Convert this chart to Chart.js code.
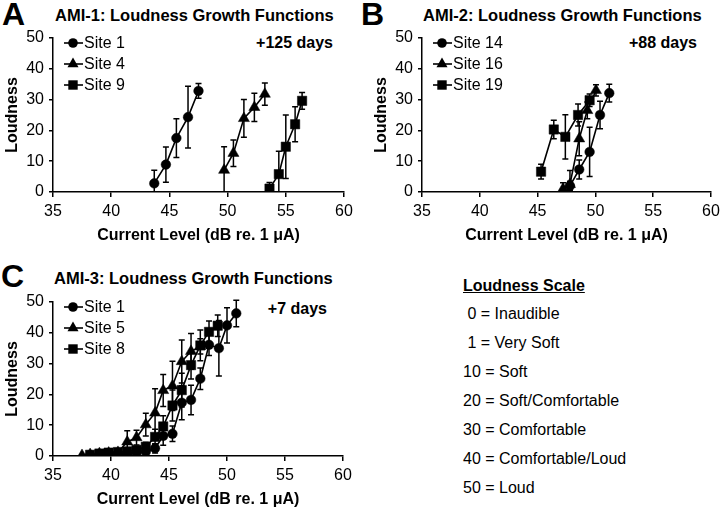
<!DOCTYPE html>
<html>
<head>
<meta charset="utf-8">
<script src="https://cdn.jsdelivr.net/npm/chart.js@4/dist/chart.umd.min.js"></script>
<style>
  html, body { margin:0; padding:0; background:#fff; }
  body { width:720px; height:508px; position:relative; overflow:hidden; font-family:'Liberation Sans', Arial, sans-serif; color:#000; }
  canvas { position:absolute; }
  .t { position:absolute; white-space:pre; font-size:16px; line-height:20px; }
  .b { font-weight:bold; }
  .h { font-size:16.5px; }
  .big { position:absolute; font-weight:bold; font-size:32px; line-height:36px; }
</style>
</head>
<body>
<div class="big" style="left:2px;top:-4px;">A</div>
<div class="big" style="left:361px;top:-4px;">B</div>
<div class="big" style="left:1px;top:258px;">C</div>
<div class="t b h" style="left:55px;top:5px;">AMI-1: Loudness Growth Functions</div>
<div class="t b h" style="left:423px;top:5px;">AMI-2: Loudness Growth Functions</div>
<div class="t b h" style="left:54px;top:268px;">AMI-3: Loudness Growth Functions</div>
<div class="t b" style="right:387px;top:33px;">+125 days</div>
<div class="t b" style="right:23px;top:33px;">+88 days</div>
<div class="t b" style="right:393px;top:299px;">+7 days</div>
<div class="t b" style="left:463px;top:276px;text-decoration:underline;">Loudness Scale</div>
<div class="t" style="left:463px;top:304px;"> 0 = Inaudible</div>
<div class="t" style="left:463px;top:333px;"> 1 = Very Soft</div>
<div class="t" style="left:463px;top:362px;">10 = Soft</div>
<div class="t" style="left:463px;top:391px;">20 = Soft/Comfortable</div>
<div class="t" style="left:463px;top:420px;">30 = Comfortable</div>
<div class="t" style="left:463px;top:449px;">40 = Comfortable/Loud</div>
<div class="t" style="left:463px;top:478px;">50 = Loud</div>

<canvas id="ca" width="360" height="250" style="left:0;top:0;"></canvas>
<canvas id="cb" width="380" height="250" style="left:360px;top:0;"></canvas>
<canvas id="cc" width="360" height="250" style="left:0;top:264px;"></canvas>

<script>
// ---- Panel A (AMI-1) ----
const aSite1X = [43.7, 44.7, 45.6, 46.6, 47.5];
const aSite1Y = [2.8, 8.9, 17.5, 24.3, 32.8];
const aSite1E = [4.3, 5.7, 6.3, 10.0, 2.4];
const aSite4X = [49.7, 50.5, 51.4, 52.3, 53.2];
const aSite4Y = [7.1, 12.6, 23.9, 27.5, 31.8];
const aSite4E = [7.6, 4.3, 6.1, 4.6, 3.6];
const aSite9X = [53.6, 54.4, 55.0, 55.8, 56.4];
const aSite9Y = [1.1, 5.8, 14.7, 22.0, 29.6];
const aSite9E = [2.0, 7.4, 10.3, 5.7, 2.7];

// ---- Panel B (AMI-2) ----
const bSite14X = [47.8, 48.6, 49.5, 50.4, 51.2];
const bSite14Y = [2.0, 7.3, 13.0, 25.0, 32.1];
const bSite14E = [1.5, 3.1, 8.0, 4.5, 2.9];
const bSite16X = [47.2, 47.8, 48.6, 49.3, 50.05];
const bSite16Y = [1.0, 2.5, 17.3, 26.5, 33.0];
const bSite16E = [2.0, 4.5, 5.5, 2.7, 1.8];
const bSite19X = [45.3, 46.4, 47.4, 48.5, 49.5];
const bSite19Y = [6.6, 20.3, 17.9, 25.0, 29.8];
const bSite19E = [2.4, 3.0, 7.2, 3.6, 2.0];

// ---- Panel C (AMI-3) ----
const cSite1X = [38.2, 39.0, 39.8, 40.6, 41.4, 42.2, 43.0, 43.8, 44.5, 45.3, 46.1, 46.9, 47.7, 48.45, 49.3, 50.0, 50.8];
const cSite1Y = [0.2, 0.4, 0.6, 0.8, 1.0, 1.2, 1.4, 2.5, 6.5, 7.2, 17.3, 18.2, 25.1, 36.1, 35.0, 42.4, 46.3];
const cSite1E = [0.3, 0.3, 0.4, 0.5, 0.5, 0.6, 0.7, 1.5, 3.0, 2.5, 5.5, 4.8, 3.5, 3.5, 9.0, 5.7, 4.3];
const cSite5X = [37.5, 38.2, 39.0, 39.8, 40.6, 41.4, 42.2, 43.0, 43.8, 44.5, 45.3, 46.1, 46.9, 47.7];
const cSite5Y = [0.2, 0.5, 0.8, 1.0, 1.2, 4.6, 6.0, 10.2, 14.0, 21.3, 22.8, 30.7, 34.0, 35.6];
const cSite5E = [0.3, 0.4, 0.4, 0.5, 0.5, 3.6, 2.4, 3.7, 7.8, 5.2, 8.0, 7.0, 5.8, 2.5];
const cSite8X = [38.2, 39.0, 39.8, 40.6, 41.4, 42.2, 43.0, 43.8, 44.5, 45.3, 46.1, 46.9, 47.7, 48.45, 49.2];
const cSite8Y = [0.4, 0.8, 1.1, 1.3, 1.5, 2.0, 3.0, 6.2, 9.6, 16.4, 21.4, 29.5, 35.9, 40.3, 42.3];
const cSite8E = [0.3, 0.4, 0.4, 0.5, 0.6, 1.0, 1.5, 2.5, 3.5, 5.0, 5.5, 4.5, 5.0, 3.5, 3.5];

const xTicks = [35, 40, 45, 50, 55, 60];
const yTicks = [0, 10, 20, 30, 40, 50];

const FAMILY = "'Liberation Sans', Arial, sans-serif";
const STYLES = ['circle', 'triangle', 'rect'];
const RADII = [4.8, 6.4, 6.6];

function pts(xs, ys) { return xs.map((x, i) => ({ x: x, y: ys[i] })); }

function ds(label, xs, ys, errs, k) {
  return {
    label: label,
    data: pts(xs, ys),
    errors: errs,
    showLine: true,
    borderColor: '#000',
    backgroundColor: '#000',
    borderWidth: 1.6,
    pointStyle: STYLES[k],
    pointRadius: RADII[k],
    pointBackgroundColor: '#000',
    pointBorderColor: '#000',
    pointBorderWidth: 0.5,
    tension: 0
  };
}

const errorBars = {
  id: 'errorBars',
  beforeDatasetsDraw(chart) {
    const { ctx, chartArea, scales } = chart;
    ctx.save();
    ctx.beginPath();
    ctx.rect(chartArea.left, chartArea.top - 10, chartArea.right - chartArea.left, chartArea.bottom - chartArea.top + 10);
    ctx.clip();
    ctx.strokeStyle = '#000';
    ctx.lineWidth = 1.5;
    chart.data.datasets.forEach(d => {
      d.data.forEach((p, i) => {
        const e = d.errors[i];
        const px = scales.x.getPixelForValue(p.x);
        const yt = scales.y.getPixelForValue(p.y + e);
        const yb = scales.y.getPixelForValue(p.y - e);
        ctx.beginPath();
        ctx.moveTo(px, yt); ctx.lineTo(px, yb);
        ctx.moveTo(px - 3, yt); ctx.lineTo(px + 3, yt);
        ctx.moveTo(px - 3, yb); ctx.lineTo(px + 3, yb);
        ctx.stroke();
      });
    });
    ctx.restore();
  }
};

const insideLegend = {
  id: 'insideLegend',
  afterDraw(chart) {
    const { ctx, chartArea } = chart;
    ctx.save();
    chart.data.datasets.forEach((d, i) => {
      const y = chartArea.top + 5 + i * 21;
      const x0 = chartArea.left + 11, x1 = chartArea.left + 30, xm = chartArea.left + 20;
      ctx.strokeStyle = '#000'; ctx.fillStyle = '#000'; ctx.lineWidth = 1.6;
      ctx.beginPath(); ctx.moveTo(x0, y); ctx.lineTo(x1, y); ctx.stroke();
      ctx.beginPath();
      if (i === 0) { ctx.arc(xm, y, 4.8, 0, Math.PI * 2); }
      else if (i === 1) {
        const r = 6.4;
        ctx.moveTo(xm, y - r);
        ctx.lineTo(xm + r * Math.sin(Math.PI * 2 / 3), y - r * Math.cos(Math.PI * 2 / 3));
        ctx.lineTo(xm - r * Math.sin(Math.PI * 2 / 3), y - r * Math.cos(Math.PI * 2 / 3));
        ctx.closePath();
      } else { ctx.rect(xm - 4.7, y - 4.7, 9.4, 9.4); }
      ctx.fill();
      ctx.font = '16px ' + FAMILY;
      ctx.textBaseline = 'middle';
      ctx.textAlign = 'left';
      ctx.fillText(d.label, chartArea.left + 31, y + 1);
    });
    ctx.restore();
  }
};

function makeChart(id, datasets, padL, padR) {
  return new Chart(document.getElementById(id), {
    type: 'scatter',
    data: { datasets: datasets },
    plugins: [errorBars, insideLegend],
    options: {
      responsive: false,
      animation: false,
      devicePixelRatio: 1,
      layout: { padding: { left: padL, right: padR, top: 38, bottom: 0 } },
      plugins: { legend: { display: false }, tooltip: { enabled: false } },
      scales: {
        x: {
          type: 'linear', min: xTicks[0], max: xTicks[xTicks.length - 1],
          afterBuildTicks(s) { s.ticks = xTicks.map(v => ({ value: v })); },
          ticks: { color: '#000', font: { size: 16, family: FAMILY }, padding: 5, maxRotation: 0, autoSkip: false },
          border: { color: '#000', width: 1.5 },
          grid: { drawOnChartArea: false, drawTicks: true, tickLength: 5, color: '#000', lineWidth: 1.5 },
          title: { display: true, text: 'Current Level (dB re. 1 μA)', color: '#000', font: { size: 16, weight: 'bold', family: FAMILY }, padding: { top: 0, bottom: 5 } },
          afterFit(s) { s.height = 58; }
        },
        y: {
          type: 'linear', min: yTicks[0], max: yTicks[yTicks.length - 1],
          afterBuildTicks(s) { s.ticks = yTicks.map(v => ({ value: v })); },
          ticks: { color: '#000', font: { size: 16, family: FAMILY }, padding: 5 },
          border: { color: '#000', width: 1.5 },
          grid: { drawOnChartArea: false, drawTicks: true, tickLength: 4, color: '#000', lineWidth: 1.5 },
          title: { display: true, text: 'Loudness', color: '#000', font: { size: 16, weight: 'bold', family: FAMILY }, padding: { top: 3, bottom: 0 } },
          afterFit(s) { s.width = 53; }
        }
      }
    }
  });
}

makeChart('ca', [
  ds('Site 1', aSite1X, aSite1Y, aSite1E, 0),
  ds('Site 4', aSite4X, aSite4Y, aSite4E, 1),
  ds('Site 9', aSite9X, aSite9Y, aSite9E, 2)
], 0, 16);

makeChart('cb', [
  ds('Site 14', bSite14X, bSite14Y, bSite14E, 0),
  ds('Site 16', bSite16X, bSite16Y, bSite16E, 1),
  ds('Site 19', bSite19X, bSite19Y, bSite19E, 2)
], 9, 29);

makeChart('cc', [
  ds('Site 1', cSite1X, cSite1Y, cSite1E, 0),
  ds('Site 5', cSite5X, cSite5Y, cSite5E, 1),
  ds('Site 8', cSite8X, cSite8Y, cSite8E, 2)
], 0, 17);
</script>
</body>
</html>
